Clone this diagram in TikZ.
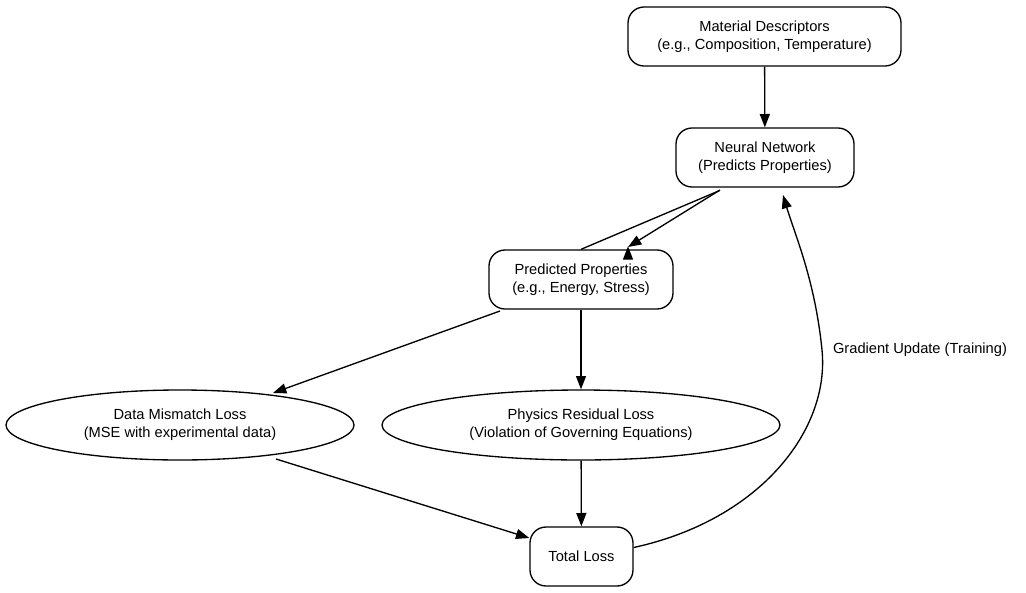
\documentclass[tikz,border=0pt]{standalone}
\usepackage{fontspec}
\setmainfont{Liberation Sans}
\usetikzlibrary{arrows.meta,shapes.geometric}
\begin{document}
\begin{tikzpicture}[x=0.75pt,y=-0.75pt,
  every node/.style={font=\fontsize{11}{13.5}\selectfont,align=center,draw,line width=1pt},
  box/.style={rounded corners=12pt,inner sep=0pt},
  ell/.style={ellipse,inner sep=0pt},
  arr/.style={line width=1pt,-{Triangle[length=10pt,width=7.5pt]}}]
\useasboundingbox (0,0) rectangle (1026,593);
\node[box,minimum width=273*0.75pt,minimum height=59*0.75pt] (md) at (764.5,36.5) {Material Descriptors\\(e.g., Composition, Temperature)};
\node[box,minimum width=178*0.75pt,minimum height=59*0.75pt] (nn) at (765,157.5) {Neural Network\\(Predicts Properties)};
\node[box,minimum width=184*0.75pt,minimum height=59*0.75pt] (pp) at (581,279.5) {Predicted Properties\\(e.g., Energy, Stress)};
\node[ell,minimum width=348*0.75pt,minimum height=70*0.75pt] (dm) at (180,425) {Data Mismatch Loss\\(MSE with experimental data)};
\node[ell,minimum width=398*0.75pt,minimum height=70*0.75pt] (pr) at (581,425) {Physics Residual Loss\\(Violation of Governing Equations)};
\node[box,minimum width=103*0.75pt,minimum height=59*0.75pt] (tl) at (581.5,556.5) {Total Loss};
\draw[arr] (md) -- (nn);
\draw[arr] (nn.south west) ++(44,3) coordinate (a1) (a1) -- (pp.north) ++(47,-3);
\draw[arr] (720,190) -- (628,247);
\draw[arr] (500,311) -- (273,393);
\draw[arr] (pp) -- (pr);
\draw[arr] (276,459) -- (tl.west |- 0,538) ;
\draw[arr] (pr) -- (tl);
\draw[arr] (tl.east) ++(0,-9) .. controls (760,520) and (830,430) .. (822,350) .. controls (815,280) and (795,235) .. (783,195);
\node[draw=none,inner sep=0pt] (gl) at (920,350) {Gradient Update (Training)};
\end{tikzpicture}
\end{document}
